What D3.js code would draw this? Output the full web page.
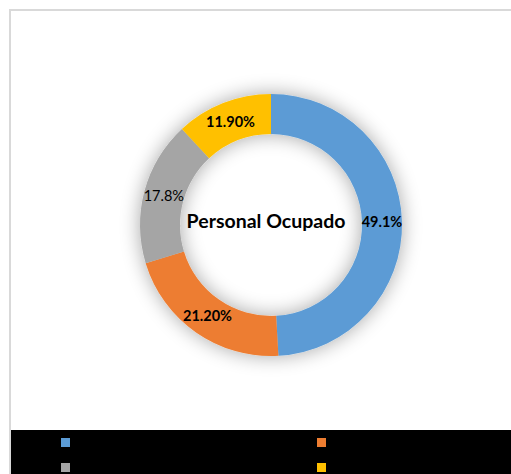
<!DOCTYPE html>
<html>
<head>
<meta charset="utf-8">
<script src="https://cdn.jsdelivr.net/npm/d3@7"></script>
<style>
  body { margin: 0; background: #fff; }
  svg { display: block; }
</style>
</head>
<body>
<div id="chart"></div>
<script>
// slices, clockwise from 12 o'clock
const categories = ["A", "B", "C", "D"];
const values = [49.1, 21.2, 17.8, 11.9];
const labels = ["49.1%", "21.20%", "17.8%", "11.90%"];
const labelBold = [true, true, false, true];
const colors = ["#5b9bd5", "#ed7d31", "#a5a5a5", "#ffc000"];
const title = "Personal Ocupado";

const width = 511, height = 474;
const cx = 271, cy = 225;
const outerR = 131, innerR = 91;

const svg = d3.select("#chart").append("svg")
    .attr("width", width)
    .attr("height", height);

const defs = svg.append("defs");
const f = defs.append("filter").attr("id", "shadow")
    .attr("x", "-30%").attr("y", "-30%").attr("width", "160%").attr("height", "160%");
f.append("feGaussianBlur").attr("in", "SourceAlpha").attr("stdDeviation", 10).attr("result", "blur");
f.append("feComponentTransfer").attr("in", "blur").attr("result", "soft")
    .append("feFuncA").attr("type", "linear").attr("slope", 0.35);
const merge = f.append("feMerge");
merge.append("feMergeNode").attr("in", "soft");
merge.append("feMergeNode").attr("in", "SourceGraphic");

// chart frame
svg.append("rect")
    .attr("x", 10).attr("y", 10)
    .attr("width", width).attr("height", height)
    .attr("fill", "none")
    .attr("stroke", "#d9d9d9")
    .attr("stroke-width", 2);

const pie = d3.pie().sort(null).value(d => d);
const arc = d3.arc().innerRadius(innerR).outerRadius(outerR);
const labelArc = d3.arc().innerRadius((innerR + outerR) / 2).outerRadius((innerR + outerR) / 2);
const arcs = pie(values);

const g = svg.append("g").attr("transform", "translate(" + cx + "," + cy + ")");

g.append("g")
    .attr("filter", "url(#shadow)")
    .selectAll("path")
    .data(arcs)
    .enter().append("path")
    .attr("d", arc)
    .attr("fill", (d, i) => colors[i]);

g.selectAll("text.lbl")
    .data(arcs)
    .enter().append("text")
    .attr("class", "lbl")
    .attr("transform", d => "translate(" + labelArc.centroid(d) + ")")
    .attr("text-anchor", "middle")
    .attr("dy", "0.35em")
    .style("font-family", "Lato, 'Open Sans', sans-serif")
    .style("font-size", "14.5px")
    .style("font-weight", (d, i) => labelBold[i] ? "bold" : "normal")
    .attr("fill", "#000")
    .text((d, i) => labels[i]);

g.append("text")
    .attr("text-anchor", "middle")
    .attr("x", -5)
    .attr("y", -4)
    .attr("dy", "0.35em")
    .style("font-family", "Lato, 'Open Sans', sans-serif")
    .style("font-size", "19.5px")
    .style("font-weight", "bold")
    .attr("fill", "#000")
    .text(title);

// legend band
svg.append("rect")
    .attr("x", 11).attr("y", 430)
    .attr("width", width - 11).attr("height", height - 430)
    .attr("fill", "#000");

const legX = d3.scalePoint().domain([0, 1]).range([61, 317]);
const legY = d3.scalePoint().domain([0, 1]).range([438, 463]);

svg.append("g").selectAll("rect")
    .data(categories)
    .enter().append("rect")
    .attr("x", (d, i) => legX(i % 2))
    .attr("y", (d, i) => legY(Math.floor(i / 2)))
    .attr("width", 9)
    .attr("height", 9)
    .attr("fill", (d, i) => colors[i]);
</script>
</body>
</html>
